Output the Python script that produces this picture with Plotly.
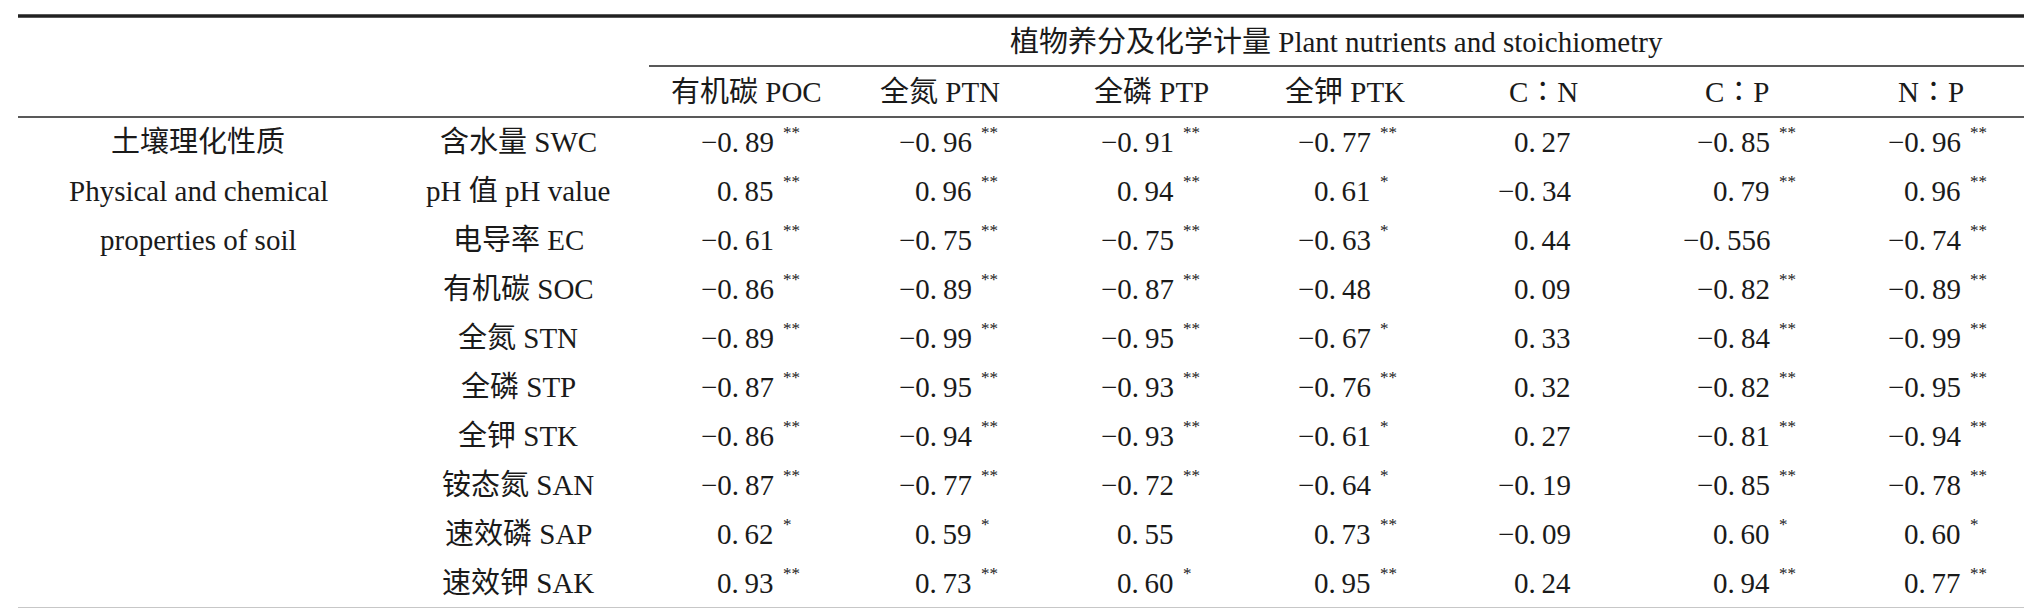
import plotly.graph_objects as go

# data
group_title = "植物养分及化学计量 Plant nutrients and stoichiometry"
col_labels = ["有机碳 POC", "全氮 PTN", "全磷 PTP", "全钾 PTK", "C∶N", "C∶P", "N∶P"]
group_label = ["土壤理化性质", "Physical and chemical", "properties of soil"]
row_labels = ["含水量 SWC", "pH 值 pH value", "电导率 EC", "有机碳 SOC", "全氮 STN",
              "全磷 STP", "全钾 STK", "铵态氮 SAN", "速效磷 SAP", "速效钾 SAK"]
values = [
    ["-0.89", "-0.96", "-0.91", "-0.77", "0.27", "-0.85", "-0.96"],
    ["0.85", "0.96", "0.94", "0.61", "-0.34", "0.79", "0.96"],
    ["-0.61", "-0.75", "-0.75", "-0.63", "0.44", "-0.556", "-0.74"],
    ["-0.86", "-0.89", "-0.87", "-0.48", "0.09", "-0.82", "-0.89"],
    ["-0.89", "-0.99", "-0.95", "-0.67", "0.33", "-0.84", "-0.99"],
    ["-0.87", "-0.95", "-0.93", "-0.76", "0.32", "-0.82", "-0.95"],
    ["-0.86", "-0.94", "-0.93", "-0.61", "0.27", "-0.81", "-0.94"],
    ["-0.87", "-0.77", "-0.72", "-0.64", "-0.19", "-0.85", "-0.78"],
    ["0.62", "0.59", "0.55", "0.73", "-0.09", "0.60", "0.60"],
    ["0.93", "0.73", "0.60", "0.95", "0.24", "0.94", "0.77"],
]
stars = [
    ["**", "**", "**", "**", "", "**", "**"],
    ["**", "**", "**", "*", "", "**", "**"],
    ["**", "**", "**", "*", "", "", "**"],
    ["**", "**", "**", "", "", "**", "**"],
    ["**", "**", "**", "*", "", "**", "**"],
    ["**", "**", "**", "**", "", "**", "**"],
    ["**", "**", "**", "*", "", "**", "**"],
    ["**", "**", "**", "*", "", "**", "**"],
    ["*", "*", "", "**", "", "*", "*"],
    ["**", "**", "*", "**", "", "**", "**"],
]

# layout (pixel positions)
W, H = 2032, 608
FONT = "Liberation Serif, Noto Sans CJK SC"
FS = 29
col_centers = [738, 932, 1143, 1337, 1535, 1729, 1923]
num_right = [768, 966, 1168, 1365, 1565, 1764, 1955]
row_y0, row_step = 134, 49
x_group, x_label = 190, 510

fig = go.Figure()
ann = []


def txt(x, y, s, anchor="center", size=FS):
    ann.append(dict(x=x, y=y, text=s, xref="x", yref="y", showarrow=False,
                    xanchor=anchor, yanchor="middle",
                    font=dict(family=FONT, size=size, color="#1a1a1a")))


txt(1328, 34, group_title)
for c, lab in zip(col_centers, col_labels):
    txt(c, 84, lab)
for i, lab in enumerate(group_label):
    txt(x_group, row_y0 + i * row_step, lab)
for r, lab in enumerate(row_labels):
    y = row_y0 + r * row_step
    txt(x_label, y, lab)
    for c in range(len(col_labels)):
        v = values[r][c].replace("-", "−").replace(".", ".\u2009")
        txt(num_right[c], y, v, anchor="right")
        if stars[r][c]:
            txt(num_right[c] + 5, y - 10, stars[r][c], anchor="left", size=17)

lines = [(10, 2018, 8, 3.5), (641, 2018, 58, 1.5), (10, 2018, 109, 1.5), (10, 2018, 601, 2.5)]
for x0, x1, y, w in lines:
    fig.add_shape(type="line", x0=x0, x1=x1, y0=y, y1=y, xref="x", yref="y",
                  line=dict(color="#222", width=w))

fig.update_layout(
    width=W, height=H, margin=dict(l=0, r=0, t=0, b=0),
    paper_bgcolor="white", plot_bgcolor="white", annotations=ann,
    showlegend=False,
)
fig.update_xaxes(range=[0, W], visible=False)
fig.update_yaxes(range=[H, 0], visible=False)
fig.write_html("out.html", config={"displayModeBar": False})
